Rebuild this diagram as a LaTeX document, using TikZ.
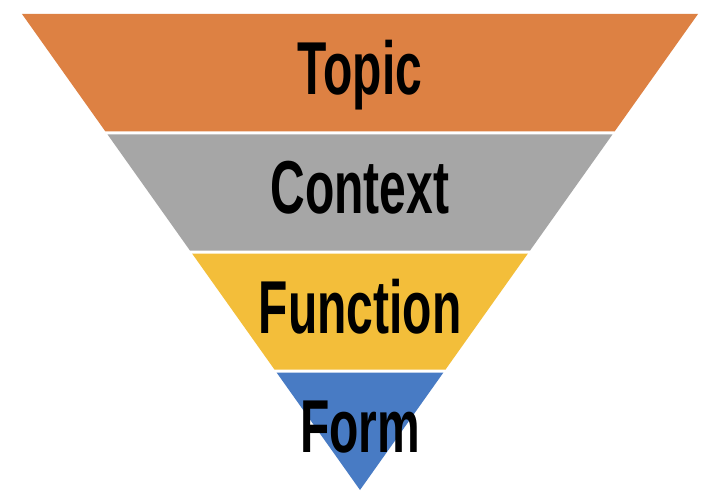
\documentclass[tikz,border=0pt]{standalone}
\usepackage{fontspec}
\newfontfamily\funnelfont[FakeStretch=0.64]{Liberation Sans}
\usepackage{xcolor}
\definecolor{topicorange}{RGB}{221,129,67}
\definecolor{contextgray}{RGB}{166,166,166}
\definecolor{functionyellow}{RGB}{243,190,58}
\definecolor{formblue}{RGB}{72,123,196}

\begin{document}
\begin{tikzpicture}[
            x=1pt, y=-1pt,
            band text/.style = {font=\funnelfont\bfseries\fontsize{75}{75}\selectfont,
                         text=black, inner sep=0pt, anchor=base}
        ]
            \useasboundingbox[fill=white] (0,0) rectangle (712,497);

            % four bands of the inverted triangle, apex at (360,490)
            \foreach \band/\bandcol/\txt [count=\i from 0] in
                {topic/topicorange/Topic, context/contextgray/Context,
                 function/functionyellow/Function, form/formblue/Form}{
                \pgfmathsetmacro{\yt}{14+119*\i+(\i>0)*1.5}
                \pgfmathsetmacro{\yb}{14+119*(\i+1)-(\i<3)*1.5}
                \pgfmathsetmacro{\wt}{0.7101*(490-\yt)}
                \pgfmathsetmacro{\wb}{0.7101*(490-\yb)}
                \fill[\bandcol] (360-\wt,\yt) -- (360+\wt,\yt)
                    -- (360+\wb,\yb) -- (360-\wb,\yb) -- cycle;
                \node[band text] (\band) at (360,14+119*\i+81) {\txt};
            }
        \end{tikzpicture}
\end{document}
